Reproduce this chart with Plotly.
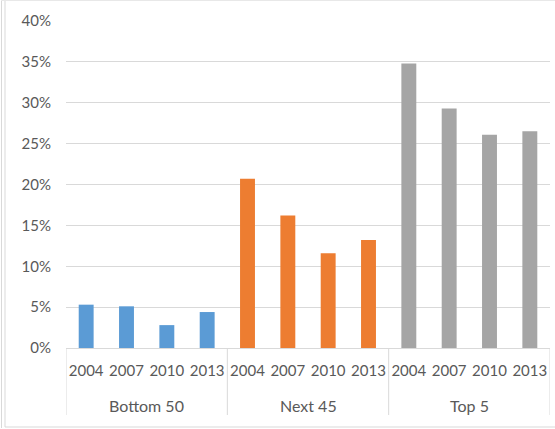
import plotly.graph_objects as go

groups = ["Bottom 50", "Next 45", "Top 5"]
years = ["2004", "2007", "2010", "2013"]
bottom50 = [0.053, 0.051, 0.028, 0.044]
next45 = [0.207, 0.162, 0.116, 0.132]
top5 = [0.348, 0.293, 0.261, 0.265]
colors = ["#5B9BD5", "#ED7D31", "#A5A5A5"]
ytick_vals = [0, 0.05, 0.10, 0.15, 0.20, 0.25, 0.30, 0.35, 0.40]

font = dict(family="Lato, Open Sans, sans-serif", size=15, color="#595959")
grid_c = "#D9D9D9"

fig = go.Figure()
all_keys, all_text = [], []
for g, vals, c in zip(groups, [bottom50, next45, top5], colors):
    keys = [f"{g}|{y}" for y in years]
    all_keys += keys
    all_text += years
    fig.add_trace(go.Bar(
        x=keys, y=vals,
        marker=dict(color=c, line=dict(width=0)),
        name=g,
    ))

n = len(years)
shapes = []
annotations = []
# group dividers (category boundaries) and group labels
for gi, g in enumerate(groups):
    start = gi * n - 0.5
    shapes.append(dict(type="line", xref="x", yref="paper",
                       x0=start, x1=start, y0=0, y1=-67 / 327,
                       line=dict(color=grid_c, width=1)))
    annotations.append(dict(xref="x", yref="paper", x=gi * n + (n - 1) / 2,
                            y=-57 / 327, text=g, showarrow=False,
                            yanchor="middle", xanchor="center",
                            font=dict(family=font["family"], size=16, color=font["color"])))
end = len(groups) * n - 0.5
shapes.append(dict(type="line", xref="x", yref="paper",
                   x0=end, x1=end, y0=0, y1=-67 / 327,
                   line=dict(color=grid_c, width=1)))

# chart container border
px = lambda v: (v - 66) / 484
py = lambda v: (348 - v) / 327
shapes += [
    dict(type="line", xref="paper", yref="paper", x0=px(1.5), x1=px(1.5),
         y0=py(0.5), y1=py(428), line=dict(color=grid_c, width=1)),
    dict(type="line", xref="paper", yref="paper", x0=px(5), x1=px(5),
         y0=py(0.5), y1=py(427), line=dict(color=grid_c, width=1)),
    dict(type="line", xref="paper", yref="paper", x0=px(5), x1=px(556),
         y0=py(427), y1=py(427), line=dict(color=grid_c, width=1)),
    dict(type="line", xref="paper", yref="paper", x0=px(1.5), x1=px(556),
         y0=py(0.5), y1=py(0.5), line=dict(color="#E8E8E8", width=1)),
]

fig.update_layout(
    width=555, height=429,
    margin=dict(l=66, r=5, t=21, b=81),
    plot_bgcolor="white", paper_bgcolor="white",
    showlegend=False,
    bargap=0.63,
    font=font,
    xaxis=dict(
        type="category",
        tickvals=all_keys, ticktext=all_text,
        range=[-0.5, len(all_keys) - 0.5],
        showline=True, linecolor=grid_c, linewidth=1,
        showgrid=False, ticks="", tickangle=0,
        ticklabelstandoff=9,
        tickfont=font,
    ),
    yaxis=dict(
        range=[0, 0.40], tickvals=ytick_vals,
        tickformat=".0%",
        showgrid=True, gridcolor=grid_c, gridwidth=1,
        zeroline=False, showline=False,
        ticklabelstandoff=14,
        tickfont=font,
    ),
    shapes=shapes,
    annotations=annotations,
)

fig.write_html("out.html")
